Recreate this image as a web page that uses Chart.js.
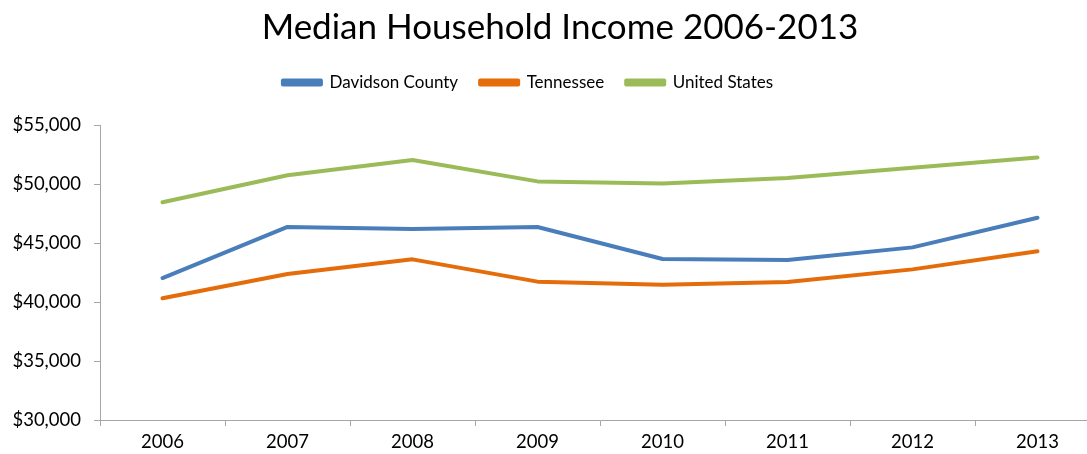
<!DOCTYPE html>
<html>
<head>
<meta charset="utf-8">
<script src="https://cdn.jsdelivr.net/npm/chart.js@4"></script>
<style>
  html, body { margin: 0; padding: 0; background: #fff; overflow: hidden; }
  #wrap { width: 1100px; height: 454px; }
</style>
</head>
<body>
<div id="wrap"><canvas id="incomeChart"></canvas></div>
<script>
const years = ['2006', '2007', '2008', '2009', '2010', '2011', '2012', '2013'];
const davidson = [42030, 46360, 46190, 46360, 43640, 43560, 44630, 47140];
const tennessee = [40315, 42367, 43614, 41725, 41461, 41693, 42764, 44298];
const unitedStates = [48451, 50740, 52029, 50221, 50046, 50502, 51371, 52250];

const FONT = 'Lato, "Open Sans", sans-serif';
const axisGrey = '#a6a6a6';

const line = (label, data, color) => ({
  label,
  data,
  borderColor: color,
  backgroundColor: color,
  borderWidth: 4,
  pointRadius: 0,
  tension: 0,
  borderCapStyle: 'round',
  borderJoinStyle: 'round',
});

// extra room under the legend; title sits a little right, legend a little left
const headerTweaks = {
  id: 'headerTweaks',
  beforeInit(chart) {
    const fit = chart.legend.fit;
    chart.legend.fit = function () {
      fit.call(this);
      this.height += 24;
    };
  },
  afterLayout(chart) {
    chart.legend.left -= 22;
    chart.legend.right -= 22;
    chart.titleBlock.left += 10;
    chart.titleBlock.right += 10;
  },
};

new Chart(document.getElementById('incomeChart'), {
  type: 'line',
  data: {
    labels: years,
    datasets: [
      line('Davidson County', davidson, '#4a7ebb'),
      line('Tennessee', tennessee, '#e46c0a'),
      line('United States', unitedStates, '#9bbb59'),
    ],
  },
  plugins: [headerTweaks],
  options: {
    responsive: true,
    maintainAspectRatio: false,
    animation: false,
    layout: { padding: 0 },
    plugins: {
      title: {
        display: true,
        text: 'Median Household Income 2006-2013',
        color: '#000',
        font: { family: FONT, size: 35, weight: 'normal' },
        padding: { top: 7, bottom: 3 },
      },
      legend: {
        labels: {
          color: '#000',
          font: { family: FONT, size: 17 },
          boxWidth: 38,
          boxHeight: 4,
          padding: 22,
        },
      },
      tooltip: { enabled: false },
    },
    scales: {
      x: {
        offset: true,
        border: { color: axisGrey, width: 1 },
        grid: { offset: true, drawOnChartArea: false, drawTicks: true, tickLength: 6, color: axisGrey },
        ticks: { color: '#000', font: { family: FONT, size: 18.5 }, padding: 5 },
        afterFit: (scale) => { scale.height = 34; },
      },
      y: {
        min: 30000,
        max: 55000,
        border: { color: axisGrey, width: 1 },
        grid: { drawOnChartArea: false, drawTicks: true, tickLength: 6, color: axisGrey },
        ticks: {
          stepSize: 5000,
          color: '#000',
          font: { family: FONT, size: 18.5 },
          padding: 13,
          callback: (v) => '$' + v.toLocaleString('en-US'),
        },
        afterFit: (scale) => { scale.width = 100; },
      },
    },
  },
});
</script>
</body>
</html>
